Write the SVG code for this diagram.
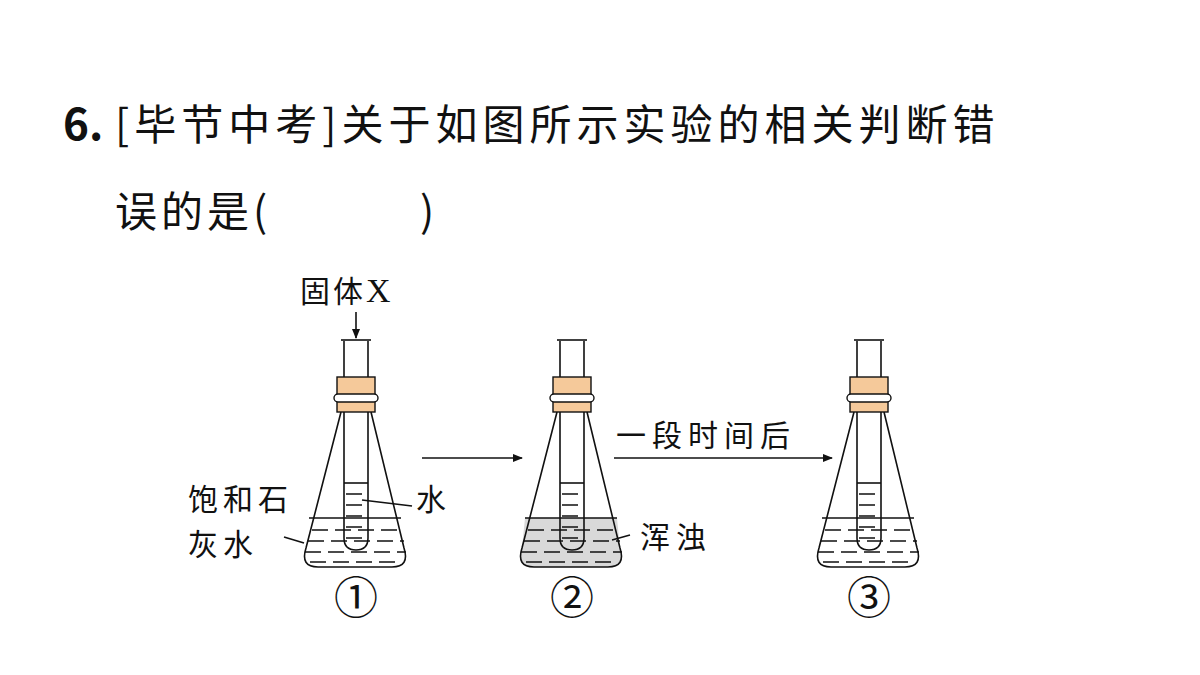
<svg xmlns="http://www.w3.org/2000/svg" xmlns:xlink="http://www.w3.org/1999/xlink" width="1200" height="675" viewBox="0 0 1200 675">
<style>
.t{font-family:"Noto Sans CJK SC","Liberation Sans",sans-serif;fill:#111}
.q{font-size:42px}
.l{font-family:"Liberation Serif","Noto Sans CJK SC",serif;font-size:44px;fill:#111}
.s{fill:none;stroke:#111;stroke-width:1.6}
.d{fill:none;stroke:#111;stroke-width:1.6;stroke-dasharray:16 7}
</style>
<defs>
<marker id="ah" markerWidth="10" markerHeight="8" refX="9" refY="4" orient="auto" markerUnits="userSpaceOnUse"><path d="M0,0 L10,4 L0,8 z" fill="#111"/></marker>
<g id="flask">
<path class="s" d="M341,412 L306,548 Q300,567 318,567 L392,567 Q410,567 404,548 L371,412"/>
<path class="s" d="M344,341 L344,538 Q344,550 356,550 Q368,550 368,538 L368,341"/>
<path class="s" d="M341,340 L371,340"/>
<rect x="337" y="377" width="38" height="35" fill="#f5c99a" stroke="#111" stroke-width="1.4"/>
<rect x="334" y="394" width="44" height="8" rx="4" fill="#fff" stroke="#111" stroke-width="1.4"/>
<path class="s" d="M344,483 L368,483"/>
<path class="s" d="M346,494 L362,494 M346,505 L362,505 M346,516 L362,516 M346,527 L362,527 M346,538 L362,538"/>
<path class="s" d="M309,518 L401,518"/>
<path class="d" d="M312,530 L400,530 M308,541 L404,541 M305,552 L406,552 M310,562 L402,562"/>
</g>
</defs>
<text class="t" x="63" y="140" font-weight="bold" font-size="44" fill="#444">6.</text>
<text class="t q" x="115" y="140" letter-spacing="5">[毕节中考]关于如图所示实验的相关判断错</text>
<text class="t q" x="115" y="227" letter-spacing="4">误的是(</text>
<text class="t q" x="420" y="227">)</text>
<g id="flask1"><use xlink:href="#flask"/></g>
<g id="flask2">
<path transform="translate(216,0)" d="M309,518 L401,518 L404,548 Q410,567 392,567 L318,567 Q300,567 306,548 z" fill="#d9d9d9"/>
<use xlink:href="#flask" transform="translate(216,0)"/>
</g>
<g id="flask3"><use xlink:href="#flask" transform="translate(513,0)"/></g>
<g id="connectors">
<path class="s" d="M356,312 L356,338" marker-end="url(#ah)"/>
<path class="s" d="M422,458 L522,458" marker-end="url(#ah)"/>
<path class="s" d="M614,458 L832,458" marker-end="url(#ah)"/>
<path class="s" d="M362,500 L412,506"/>
<path class="s" d="M284,537 L304,543"/>
<path class="s" d="M612,540 L630,535"/>
</g>
<g id="labels">
<text class="t" font-size="30" x="300" y="302" letter-spacing="3">固体<tspan font-family="Liberation Serif" font-size="34">X</tspan></text>
<text class="t" font-size="30" x="188" y="510" letter-spacing="5">饱和石</text>
<text class="t" font-size="30" x="188" y="555" letter-spacing="5">灰水</text>
<text class="t" font-size="30" x="416" y="510">水</text>
<text class="t" font-size="30" x="640" y="548" letter-spacing="6">浑浊</text>
<text class="t" font-size="30" x="616" y="446" letter-spacing="6">一段时间后</text>
<text class="l" x="356" y="614" text-anchor="middle">①</text>
<text class="l" x="572" y="614" text-anchor="middle">②</text>
<text class="l" x="869" y="614" text-anchor="middle">③</text>
</g>
</svg>
